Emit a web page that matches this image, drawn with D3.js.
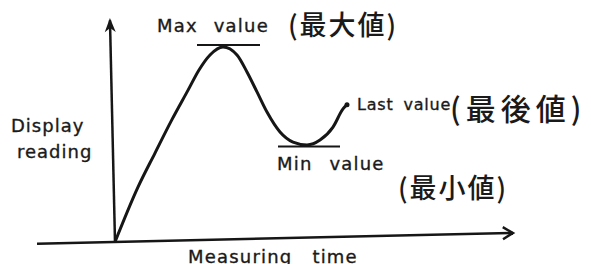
<!DOCTYPE html>
<html lang="en">
<head>
    <meta charset="UTF-8">
    <title>Display reading vs measuring time</title>
    <style>
        body { margin: 0; background: #fff; }
        .curve { fill: none; stroke: #161616; stroke-width: 3px; }
        .axis line { stroke: #161616; stroke-width: 2.5px; }
        .marker { stroke: #161616; stroke-width: 2px; }
        .lab { font-family: "DejaVu Sans", sans-serif; fill: #1a1a1a; stroke: #1a1a1a; stroke-width: 0.35px; }
        .cjk { font-family: "Noto Sans CJK JP", sans-serif; font-weight: 500; fill: #1a1a1a; }
    </style>
    <script src="https://d3js.org/d3.v7.min.js"></script>
</head>
<body>
    <script>
        // curve (time and reading in 0..100 units)
        const timeValues    = [0, 5.8, 10, 14.2, 18.3, 21, 23.75, 27, 30.5, 33, 35.5, 38, 41.25, 44.5, 48, 51.25, 54.5, 57, 58];
        const readingValues = [0, 24.7, 39.7, 54.5, 67.9, 76.8, 83.5, 87.05, 83.5, 75.9, 67.0, 58.0, 49.1, 44.6, 43.3, 45.5, 51.3, 59.4, 61.3];

        const axisLabels = ["Display", "reading", "Measuring time"];
        const pointLabels = ["Max value", "(最大値)", "Min value", "(最小値)", "Last value", "(最後値)"];

        const width = 591, height = 264;
        const svg = d3.select("body").append("svg")
            .attr("width", width).attr("height", height);

        const x = d3.scaleLinear().domain([0, 100]).range([115, 515]);
        const y = d3.scaleLinear().domain([0, 100]).range([242, 18]);

        const points = timeValues.map((t, i) => ({ t: t, v: readingValues[i] }));
        const maxPt = points.reduce((a, b) => b.v > a.v ? b : a);
        const afterMax = points.slice(points.indexOf(maxPt));
        const minPt = afterMax.reduce((a, b) => b.v < a.v ? b : a);
        const lastPt = points[points.length - 1];

        // axes, slightly tilted like the scan
        const axes = svg.append("g").attr("class", "axis")
            .attr("transform", `rotate(-1.3, ${x(0)}, ${y(0)})`);
        axes.append("line")
            .attr("x1", x(-19.5)).attr("y1", y(0))
            .attr("x2", x(99.5)).attr("y2", y(0));
        axes.append("line")
            .attr("x1", x(0)).attr("y1", y(0))
            .attr("x2", x(0)).attr("y2", y(99));
        axes.append("path")
            .attr("transform", `translate(${x(0)},${y(100)})`)
            .attr("d", "M0,0 L-5.5,14 L0,10 L5.5,14 Z")
            .attr("fill", "#161616");
        axes.append("path")
            .attr("transform", `translate(${x(99.5)},${y(0)})`)
            .attr("d", "M-10,-6 L0,0 L-10,6")
            .attr("fill", "none").attr("stroke", "#161616").attr("stroke-width", 2.5);

        const line = d3.line()
            .x(d => x(d.t)).y(d => y(d.v))
            .curve(d3.curveMonotoneX);

        svg.append("path").attr("class", "curve")
            .datum(points).attr("d", line);

        // max / min tangent marks
        svg.append("line").attr("class", "marker")
            .attr("x1", x(maxPt.t - 6.5)).attr("x2", x(maxPt.t + 9.25))
            .attr("y1", y(maxPt.v) - 2).attr("y2", y(maxPt.v) - 2);
        svg.append("line").attr("class", "marker")
            .attr("x1", x(minPt.t - 7.25)).attr("x2", x(minPt.t + 8.25))
            .attr("y1", y(minPt.v) + 1.5).attr("y2", y(minPt.v) + 1.5);

        svg.append("circle")
            .attr("cx", x(lastPt.t)).attr("cy", y(lastPt.v)).attr("r", 2.5)
            .attr("fill", "#161616");

        function label(txt, px, py, size, cls, ls, ws) {
            return svg.append("text").attr("class", cls)
                .attr("x", px).attr("y", py)
                .style("font-size", size + "px")
                .style("letter-spacing", ls + "px")
                .style("word-spacing", ws + "px")
                .text(txt);
        }

        label(axisLabels[0], 11, 132, 18, "lab", 1, 0);
        label(axisLabels[1], 17, 158, 18, "lab", 1, 0);
        label(axisLabels[2], 188, 263, 18, "lab", 1.2, 13);

        label(pointLabels[0], 157, 32, 18, "lab", 1.2, 9);
        label(pointLabels[1], 288, 35, 27, "cjk", 2, 0);
        label(pointLabels[2], 277, 170, 18, "lab", 1.2, 10);
        label(pointLabels[3], 398, 198, 27, "cjk", 2, 0);
        label(pointLabels[4], 357, 110, 16, "lab", 0.8, 4);
        label(pointLabels[5], 450, 120, 30, "cjk", 5, 0);
    </script>
</body>
</html>
